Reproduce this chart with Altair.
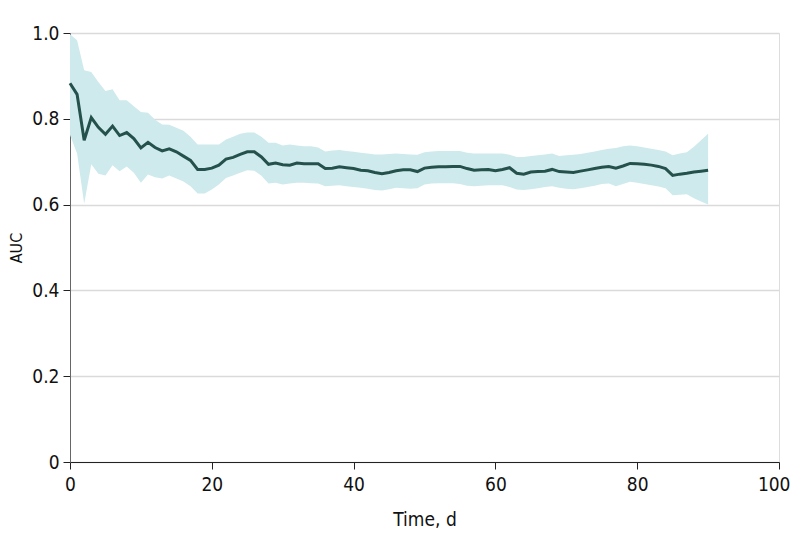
import altair as alt
import pandas as pd

days = list(range(0, 91))

auc = [0.883, 0.857, 0.750, 0.803, 0.780, 0.764, 0.783, 0.761, 0.768, 0.754,
       0.732, 0.745, 0.733, 0.725, 0.730, 0.723, 0.713, 0.703, 0.682, 0.682,
       0.685, 0.692, 0.706, 0.710, 0.717, 0.723, 0.723, 0.711, 0.694, 0.697,
       0.693, 0.692, 0.697, 0.695, 0.695, 0.695, 0.684, 0.685, 0.688, 0.686,
       0.684, 0.680, 0.679, 0.675, 0.672, 0.675, 0.679, 0.681, 0.681, 0.677,
       0.685, 0.687, 0.688, 0.688, 0.689, 0.689, 0.684, 0.680, 0.681, 0.682,
       0.679, 0.682, 0.686, 0.673, 0.671, 0.676, 0.677, 0.678, 0.682, 0.677,
       0.676, 0.675, 0.678, 0.681, 0.684, 0.687, 0.689, 0.685, 0.690, 0.696,
       0.695, 0.694, 0.692, 0.689, 0.684, 0.668, 0.671, 0.673, 0.676, 0.678,
       0.680]

upper = [0.997, 0.983, 0.913, 0.909, 0.886, 0.865, 0.869, 0.843, 0.843, 0.829,
         0.816, 0.814, 0.798, 0.787, 0.786, 0.779, 0.772, 0.758, 0.740, 0.740,
         0.740, 0.740, 0.752, 0.758, 0.765, 0.768, 0.768, 0.758, 0.744, 0.744,
         0.738, 0.740, 0.738, 0.736, 0.736, 0.733, 0.724, 0.726, 0.727, 0.725,
         0.723, 0.721, 0.719, 0.717, 0.717, 0.718, 0.719, 0.718, 0.717, 0.716,
         0.722, 0.724, 0.725, 0.725, 0.725, 0.725, 0.721, 0.719, 0.719, 0.719,
         0.719, 0.719, 0.716, 0.711, 0.711, 0.713, 0.715, 0.717, 0.719, 0.713,
         0.715, 0.716, 0.718, 0.721, 0.724, 0.727, 0.730, 0.732, 0.736, 0.738,
         0.736, 0.733, 0.730, 0.727, 0.724, 0.715, 0.719, 0.722, 0.735, 0.750,
         0.765]

lower = [0.762, 0.719, 0.602, 0.694, 0.672, 0.668, 0.692, 0.678, 0.689, 0.674,
         0.651, 0.670, 0.664, 0.661, 0.668, 0.661, 0.654, 0.643, 0.626, 0.626,
         0.635, 0.647, 0.662, 0.668, 0.674, 0.680, 0.679, 0.667, 0.649, 0.651,
         0.647, 0.649, 0.651, 0.651, 0.650, 0.649, 0.643, 0.644, 0.645, 0.643,
         0.641, 0.639, 0.637, 0.634, 0.633, 0.636, 0.639, 0.638, 0.637, 0.638,
         0.647, 0.649, 0.650, 0.650, 0.650, 0.648, 0.644, 0.643, 0.644, 0.645,
         0.645, 0.645, 0.641, 0.635, 0.634, 0.636, 0.638, 0.641, 0.643, 0.639,
         0.637, 0.636, 0.638, 0.641, 0.644, 0.648, 0.649, 0.643, 0.648, 0.653,
         0.651, 0.648, 0.645, 0.642, 0.638, 0.622, 0.623, 0.624, 0.615, 0.607,
         0.600]

df = pd.DataFrame({"day": days, "auc": auc, "lo": lower, "hi": upper})

FONT = "DejaVu Sans Condensed"

x = alt.X("day:Q", title="Time, d",
          scale=alt.Scale(domain=[0, 100], nice=False, zero=True),
          axis=alt.Axis(values=[0, 20, 40, 60, 80, 100], grid=False, labelFlush=False,
                        labelAlign=alt.condition("datum.value == 100", alt.value("right"), alt.value("center")),
                        labelOffset=alt.condition("datum.value == 100", alt.value(11), alt.value(0)),
                        domainColor="#222222", tickColor="#222222", tickSize=7,
                        labelFontSize=19, titleFontSize=19, labelPadding=6,
                        titlePadding=16, labelColor="#111111", titleColor="#111111",
                        titleFontWeight="normal", labelFont=FONT, titleFont=FONT))

y_axis = alt.Axis(values=[0, 0.2, 0.4, 0.6, 0.8, 1.0], grid=True, gridColor="#dadada",
                  gridWidth=1.5, labelFlush=False,
                  domainColor="#666666", tickColor="#222222", tickSize=7,
                  labelFontSize=19, titleFontSize=16, labelPadding=4,
                  titlePadding=7, labelColor="#111111", titleColor="#111111",
                  titleFontWeight="normal", labelFont=FONT, titleFont=FONT,
                  labelExpr="datum.value == 0 ? '0' : format(datum.value, '.1f')")

band = alt.Chart(df).mark_area(color="#cfeaec", opacity=1).encode(
    x=x,
    y=alt.Y("lo:Q", title="AUC", scale=alt.Scale(domain=[0, 1], nice=False), axis=y_axis),
    y2="hi:Q",
)

line = alt.Chart(df).mark_line(color="#24514c", strokeWidth=3).encode(
    x=x,
    y=alt.Y("auc:Q", title="AUC", scale=alt.Scale(domain=[0, 1], nice=False), axis=y_axis),
)

chart = (band + line).properties(
    width=709, height=429,
    autosize=alt.AutoSizeParams(type="none"),
    padding={"left": 62, "top": 25, "right": 11, "bottom": 86},
).configure_view(stroke=None).configure(background="white")

chart.save("out.html", embed_options={"renderer": "svg", "actions": False})
